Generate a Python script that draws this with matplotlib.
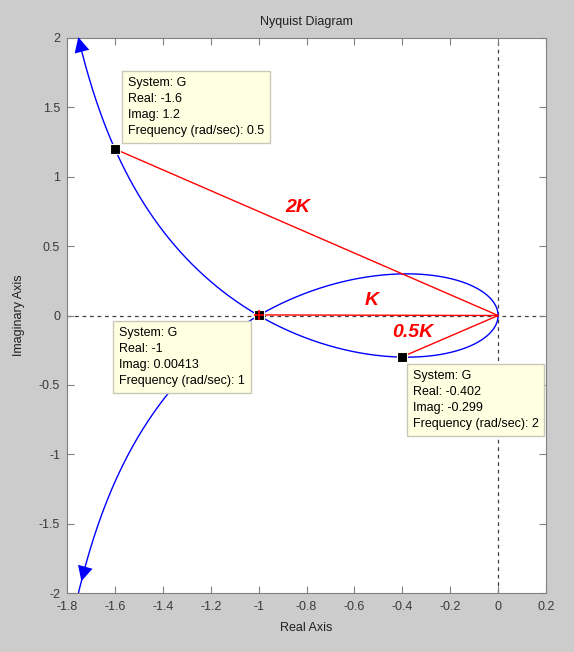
import numpy as np
import matplotlib
matplotlib.use("Agg")
import matplotlib.pyplot as plt
from matplotlib.ticker import FormatStrFormatter

plt.rcParams['font.family'] = ['Liberation Sans', 'DejaVu Sans']

# system G(s) = (s + 1) / (s^2 - s), read back from the data tips
num = [1, 1]
den = [1, -1, 0]

# data tips shown on the chart
tip_freq = [0.5, 1, 2]
tip_real = [-1.6, -1, -0.402]
tip_imag = [1.2, 0.00413, -0.299]
tip_labels = ['2K', 'K', '0.5K']

x_ticks = [-1.8, -1.6, -1.4, -1.2, -1, -0.8, -0.6, -0.4, -0.2, 0, 0.2]
y_ticks = [-2, -1.5, -1, -0.5, 0, 0.5, 1, 1.5, 2]


def G(w):
    s = 1j * np.asarray(w)
    return np.polyval(num, s) / np.polyval(den, s)


w = np.logspace(-2, 3, 3000)
resp = G(w)

fig = plt.figure(figsize=(5.74, 6.52), dpi=100, facecolor='#cccccc')
ax = fig.add_axes([67/574, 59/652, 479/574, 555/652])
ax.set_facecolor('white')

# axis cross lines
ax.axhline(0, color='#404040', lw=0.9, ls=(0, (3, 3)), zorder=1)
ax.axvline(0, color='#404040', lw=0.9, ls=(0, (3, 3)), zorder=1)

# nyquist curve, positive and negative frequencies
ax.plot(resp.real, resp.imag, color='blue', lw=1, zorder=2)
ax.plot(resp.real, -resp.imag, color='blue', lw=1, zorder=2)

# direction arrows
arrow_style = dict(arrowstyle='-|>,head_width=0.45,head_length=0.9', color='blue',
                   lw=0, mutation_scale=12)
top_tip, top_tail = G(0.373), G(0.40)
ax.annotate('', xy=(top_tip.real, top_tip.imag), xytext=(top_tail.real, top_tail.imag),
            arrowprops=arrow_style, zorder=3, annotation_clip=False)
bot_tip, bot_tail = np.conj(G(0.384)), np.conj(G(0.41))
ax.annotate('', xy=(bot_tip.real, bot_tip.imag), xytext=(bot_tail.real, bot_tail.imag),
            arrowprops=arrow_style, zorder=3)

# red gain lines from origin
for re, im in zip(tip_real, tip_imag):
    ax.plot([0, re], [0, im], color='red', lw=1, zorder=3)

ax.plot(tip_real, tip_imag, ls='none', marker='s', ms=6.5, mfc='black', mec='#fffff0',
        mew=0.8, zorder=4)
ax.plot(tip_real[1], tip_imag[1], marker='+', color='red', ms=7, mew=1.2, zorder=5)

# gain labels
label_pos = [(-0.835, 0.78), (-0.527, 0.11), (-0.355, -0.12)]
for (lx, ly), lab in zip(label_pos, tip_labels):
    ax.text(lx, ly, lab, color='red', fontsize=14, fontweight='bold', fontstyle='italic',
            ha='center', va='center', zorder=6)

# data tip boxes
box_pos = [(0.1273, 0.9297), (0.1086, 0.4793), (0.7223, 0.4018)]
for (bx, by), f, re, im in zip(box_pos, tip_freq, tip_real, tip_imag):
    txt = 'System: G\nReal: %g\nImag: %g\nFrequency (rad/sec): %g' % (re, im, f)
    ax.text(bx, by, txt, transform=ax.transAxes, fontsize=9, ha='left', va='top',
            linespacing=1.45, color='black', zorder=7,
            bbox=dict(boxstyle='square,pad=0.45', facecolor='#ffffe1', edgecolor='#c8c8b8', lw=1))

ax.set_xlim(-1.8, 0.2)
ax.set_ylim(-2, 2)
ax.set_xticks(x_ticks)
ax.set_yticks(y_ticks)
ax.xaxis.set_major_formatter(FormatStrFormatter('%g'))
ax.yaxis.set_major_formatter(FormatStrFormatter('%g'))
ax.tick_params(direction='in', top=True, right=True, length=5, color='#808080',
               labelcolor='#3a3a3a', labelsize=9)
ax.tick_params(axis='x', pad=6)
ax.tick_params(axis='y', pad=5)
for sp in ax.spines.values():
    sp.set_color('#808080')

ax.set_title('Nyquist Diagram', fontsize=9, color='#202020', pad=9)
ax.set_xlabel('Real Axis', fontsize=9, color='#202020', labelpad=6)
ax.set_ylabel('Imaginary Axis', fontsize=9, color='#202020', labelpad=10)

fig.savefig('out.png', dpi=100, facecolor=fig.get_facecolor())
